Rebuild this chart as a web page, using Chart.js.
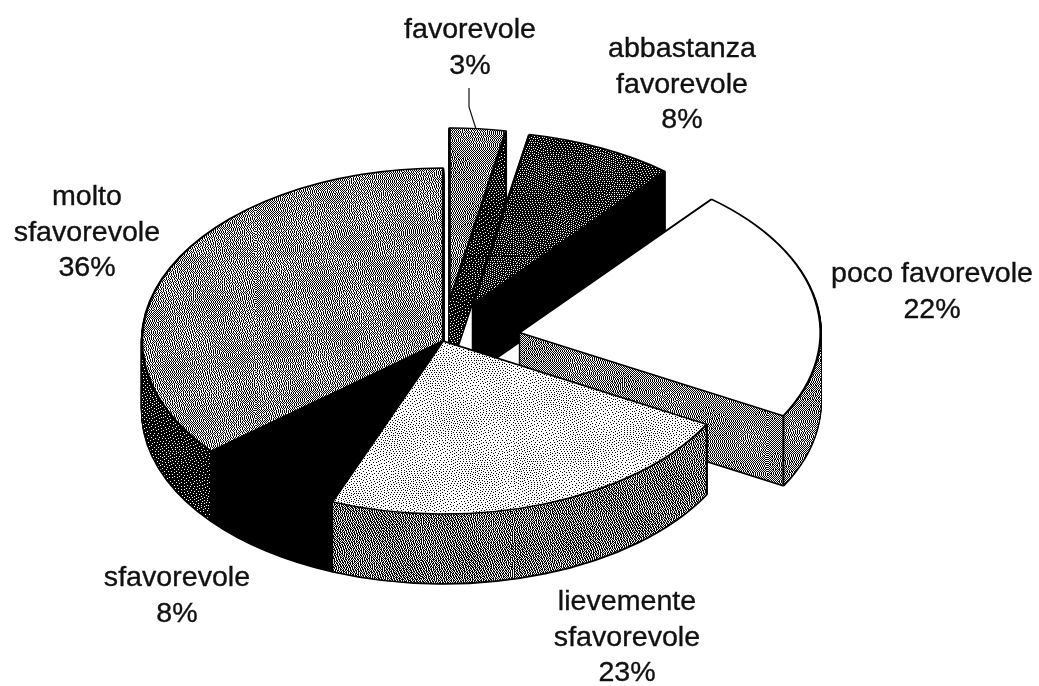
<!DOCTYPE html>
<html>
<head>
<meta charset="utf-8">
<style>html,body{margin:0;padding:0;background:#fff}canvas{display:block}</style>
<script src="https://cdn.jsdelivr.net/npm/chart.js@4"></script>
</head>
<body>
<canvas id="c" width="1039" height="686"></canvas>
<script>
const categories = ['favorevole','abbastanza favorevole','poco favorevole','lievemente sfavorevole','sfavorevole','molto sfavorevole'];
const values = [3,8,22,23,8,36];
const topTones = [0.5,0.2,1,0.84,0,0.54];
const wallTones = [0.14,0,0.5,0.42,0,0.12];
const explodeBy = [70,70,78,0,0,0];
const drawOrder = [5,0,1,2,4,3];
const labelLines = [['favorevole'],['abbastanza','favorevole'],['poco favorevole'],['lievemente','sfavorevole'],['sfavorevole'],['molto','sfavorevole']];
const labelAnchors = [[470,38],[682,57],[932,282],[627,610],[177,586],[87,205]];

const SQUASH = 0.575, DEPTH = 70, LINE_GAP = 35.6;

function tone(level){
  if(level<=0) return '#000';
  if(level>=1) return '#fff';
  const size=256, buf=new Float32Array(size*size);
  for(let y=0;y<size;y++)for(let x=0;x<size;x++){
    buf[y*size+x]=level+Math.sin(x/17+y/29)*Math.cos(y/13-x/31)*0.035;
  }
  const t=document.createElement('canvas'); t.width=t.height=size;
  const g=t.getContext('2d'), img=g.createImageData(size,size);
  for(let y=0;y<size;y++)for(let x=0;x<size;x++){
    const idx=y*size+x, old=buf[idx], on=old>=0.5?1:0, err=old-on;
    const put=(dx,dy,w)=>{const X=(x+dx+size)%size,Y=y+dy; if(Y<size) buf[Y*size+X]+=err*w;};
    put(1,0,7/16);put(-1,1,3/16);put(0,1,5/16);put(1,1,1/16);
    const v=on?255:0, i=idx*4;
    img.data[i]=img.data[i+1]=img.data[i+2]=v; img.data[i+3]=255;
  }
  g.putImageData(img,0,0);
  return g.createPattern(t,'repeat');
}
const topFills = topTones.map(tone);
const wallFills = wallTones.map(tone);

function paint(ctx,arc,over){
  const saved=arc.options, o={};
  for(const k in over) o[k]={value:over[k],writable:true,enumerable:true};
  arc.options=Object.create(saved,o);
  const fill=over.backgroundColor||saved.backgroundColor;
  if(typeof fill!=='string') fill.setTransform(ctx.getTransform().inverse());
  arc.draw(ctx);
  arc.options=saved;
}
function place(ctx,arc,i,dy){
  const p=arc.getProps(['x','y','startAngle','endAngle'],true);
  const mid=(p.startAngle+p.endAngle)/2;
  ctx.translate(0,dy);
  ctx.translate(p.x,p.y); ctx.scale(1,SQUASH); ctx.translate(-p.x,-p.y);
  ctx.translate(Math.cos(mid)*explodeBy[i],Math.sin(mid)*explodeBy[i]);
}
const pie3d={
  id:'pie3d',
  beforeDatasetsDraw(chart){
    const ctx=chart.ctx, arcs=chart.getDatasetMeta(0).data;
    for(const i of drawOrder){
      const arc=arcs[i];
      for(let d=DEPTH;d>0;d-=1){
        ctx.save(); place(ctx,arc,i,d);
        paint(ctx,arc,{backgroundColor:'#000',borderColor:'#000',borderWidth:2.5});
        ctx.restore();
      }
      for(let d=DEPTH-1;d>0;d-=1){
        ctx.save(); place(ctx,arc,i,d);
        paint(ctx,arc,{backgroundColor:wallFills[i],borderWidth:0});
        ctx.restore();
      }
      const p=arc.getProps(['x','y','startAngle','endAngle','outerRadius'],true);
      const mid=(p.startAngle+p.endAngle)/2;
      for(const a of [p.startAngle,p.endAngle]){
        const x=p.x+Math.cos(mid)*explodeBy[i]+Math.cos(a)*p.outerRadius;
        const y=p.y+(Math.sin(mid)*explodeBy[i]+Math.sin(a)*p.outerRadius)*SQUASH;
        ctx.save(); ctx.strokeStyle='#000'; ctx.lineWidth=2;
        ctx.beginPath(); ctx.moveTo(x,y); ctx.lineTo(x,y+DEPTH); ctx.stroke(); ctx.restore();
      }
      ctx.save(); place(ctx,arc,i,0);
      paint(ctx,arc,{});
      ctx.restore();
    }
    return false;
  },
  afterDraw(chart){
    const ctx=chart.ctx;
    ctx.save();
    ctx.fillStyle='#111'; ctx.strokeStyle='#111'; ctx.lineWidth=0.35;
    ctx.font='27.5px "Liberation Sans", Arial, sans-serif';
    ctx.textAlign='center'; ctx.textBaseline='alphabetic';
    labelLines.forEach((lines,i)=>{
      const rows=[...lines,values[i]+'%'];
      rows.forEach((txt,r)=>{
        ctx.save();
        ctx.translate(labelAnchors[i][0],labelAnchors[i][1]+r*LINE_GAP);
        ctx.scale(1.04,1);
        ctx.fillText(txt,0,0);
        ctx.strokeText(txt,0,0);
        ctx.restore();
      });
    });
    ctx.strokeStyle='#111'; ctx.lineWidth=1.2;
    ctx.beginPath(); ctx.moveTo(469,88); ctx.lineTo(469,107); ctx.lineTo(476,129); ctx.stroke();
    ctx.restore();
  }
};
new Chart(document.getElementById('c'),{
  type:'pie',
  data:{labels:categories,datasets:[{data:values,backgroundColor:topFills,borderColor:'#000',borderWidth:2.5,borderAlign:'center'}]},
  options:{
    responsive:false,animation:false,radius:301,
    layout:{padding:{left:0,right:153,top:0,bottom:4}},
    plugins:{legend:{display:false},tooltip:{enabled:false}},
    events:[]
  },
  plugins:[pie3d]
});
</script>
</body>
</html>
